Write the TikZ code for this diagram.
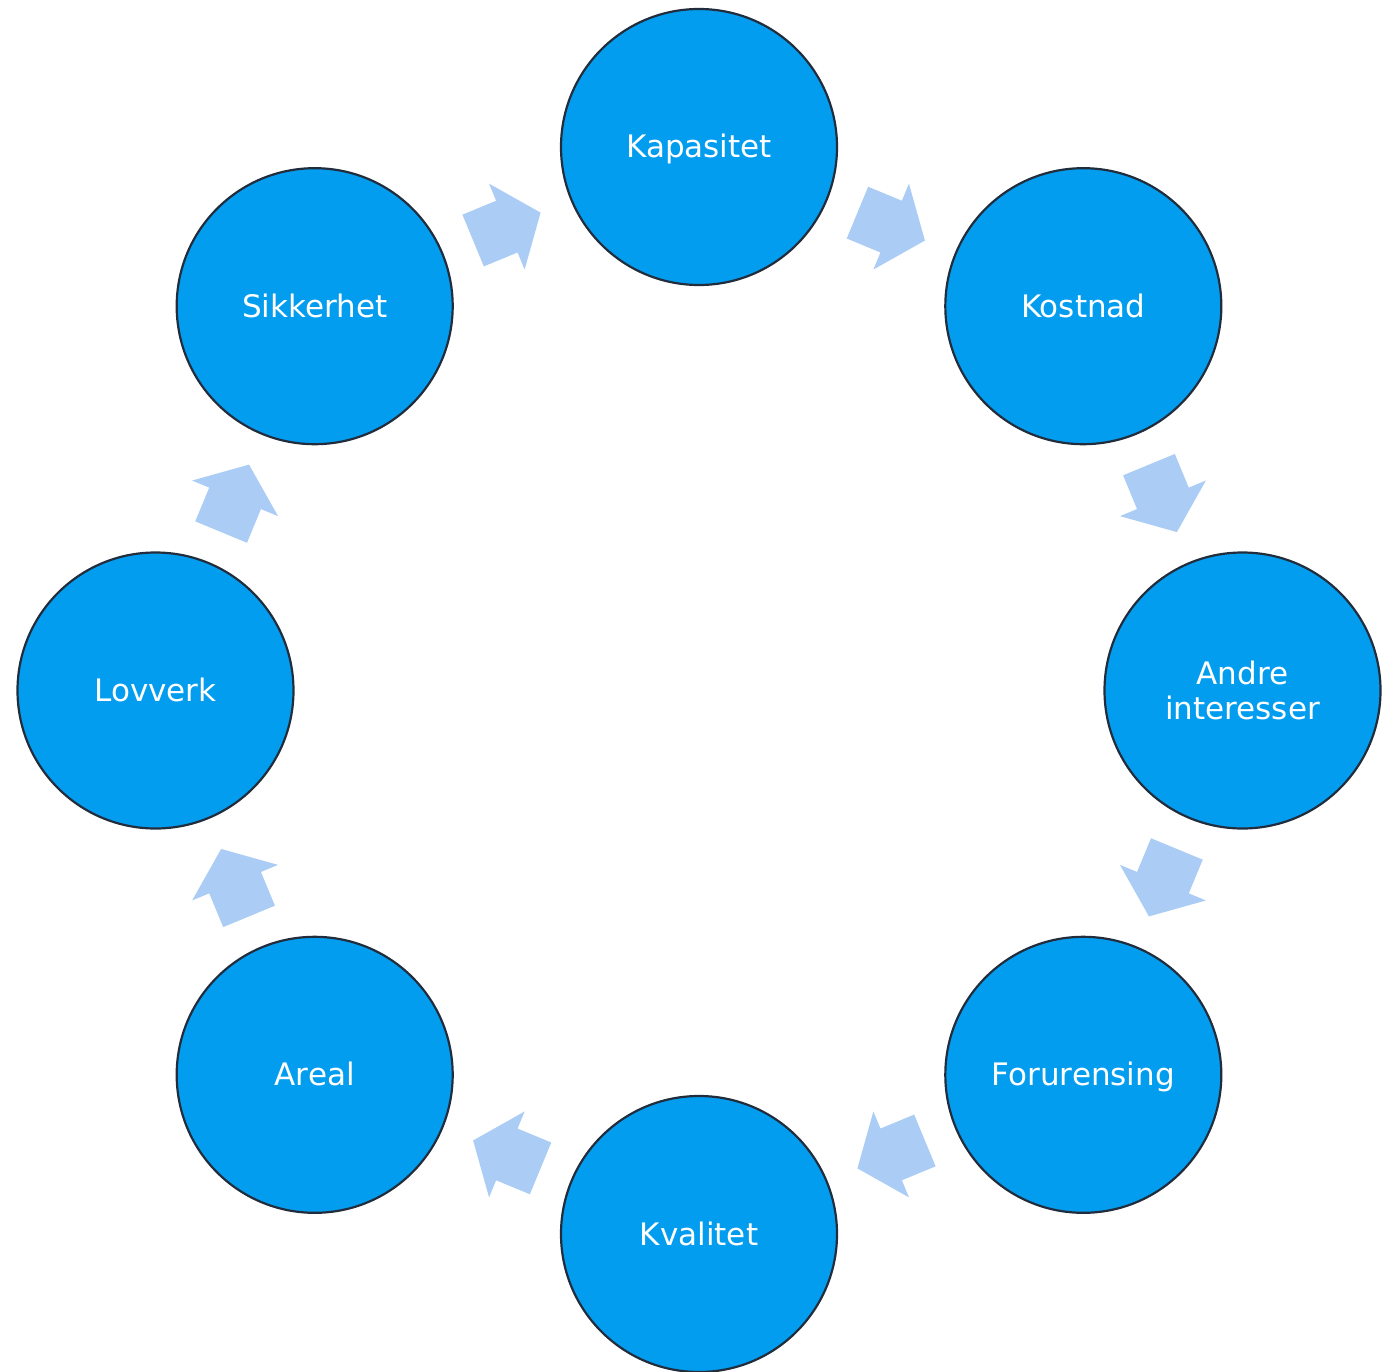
\documentclass[tikz,border=0pt]{standalone}
\usepackage{fontspec}
\setmainfont{DejaVu Sans}
\usetikzlibrary{calc}
\definecolor{circfill}{RGB}{3,157,240}
\definecolor{circline}{RGB}{33,45,60}
\definecolor{arrfill}{RGB}{170,204,245}
\tikzset{
  x=1pt, y=-1pt,
  circ/.style={circle, fill=circfill, draw=circline, line width=2.2pt,
    minimum size=276pt, inner sep=0pt, text=white, align=center,
    text height=29pt, text depth=7pt,
    font=\fontsize{31}{35}\selectfont},
  barrow/.pic={
    \fill[arrfill] (-36.5,-28) -- (0,-28) -- (0,-46.5) -- (36.5,0)
      -- (0,46.5) -- (0,28) -- (-36.5,28) -- cycle;
  }
}
\newcommand{\cyclearrow}[2]{%
  \path let \p1=($(#2)-(#1)$), \n1={atan2(\y1,\x1)} in
    ($(#1)!0.5!(#2)$) pic[rotate=\n1]{barrow};%
}
\begin{document}
\begin{tikzpicture}
\useasboundingbox (0,0) rectangle (1399,1372);
\coordinate (c) at (699,690.5);
\node[circ] (kap) at ($(c)+(-90:543.5)$) {Kapasitet};
\node[circ] (kos) at ($(c)+(-45:543.5)$) {Kostnad};
\node[circ, text height=64pt] (and) at ($(c)+(0:543.5)$) {Andre\\interesser};
\node[circ] (for) at ($(c)+(45:543.5)$) {Forurensing};
\node[circ] (kva) at ($(c)+(90:543.5)$) {Kvalitet};
\node[circ] (are) at ($(c)+(135:543.5)$) {Areal};
\node[circ] (lov) at ($(c)+(180:543.5)$) {Lovverk};
\node[circ] (sik) at ($(c)+(-135:543.5)$) {Sikkerhet};
\cyclearrow{kap}{kos}
\cyclearrow{kos}{and}
\cyclearrow{and}{for}
\cyclearrow{for}{kva}
\cyclearrow{kva}{are}
\cyclearrow{are}{lov}
\cyclearrow{lov}{sik}
\cyclearrow{sik}{kap}
\end{tikzpicture}
\end{document}
